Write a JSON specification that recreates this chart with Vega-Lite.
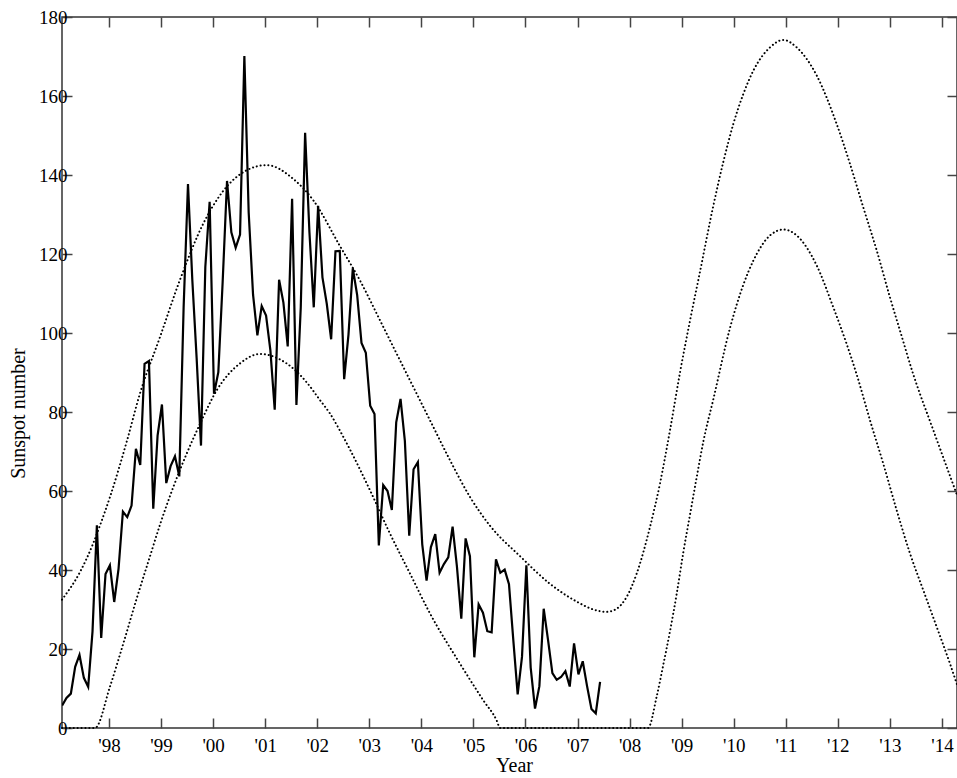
{
  "$schema": "https://vega.github.io/schema/vega-lite/v6.json",
  "width": 895,
  "height": 711,
  "autosize": "none",
  "padding": {"left": 62, "top": 17, "right": 0, "bottom": 50},
  "background": "white",
  "config": {
    "view": {"stroke": "#333", "strokeWidth": 1.5},
    "axis": {
      "labelFont": "Liberation Serif",
      "labelFontSize": 19,
      "labelColor": "black",
      "titleFont": "Liberation Serif",
      "titleFontSize": 20,
      "titleFontWeight": "normal",
      "titleColor": "black",
      "tickColor": "#444",
      "tickWidth": 1.5,
      "domain": false,
      "grid": false
    }
  },
  "datasets": {
    "obs": [
      {"t": 1997.100, "ssn": 5.7}, {"t": 1997.183, "ssn": 7.6}, {"t": 1997.267, "ssn": 8.7}, {"t": 1997.350, "ssn": 15.5},
      {"t": 1997.433, "ssn": 18.5}, {"t": 1997.517, "ssn": 12.7}, {"t": 1997.600, "ssn": 10.4}, {"t": 1997.683, "ssn": 24.4},
      {"t": 1997.767, "ssn": 51.3}, {"t": 1997.850, "ssn": 22.8}, {"t": 1997.933, "ssn": 39.0}, {"t": 1998.017, "ssn": 41.2},
      {"t": 1998.100, "ssn": 31.9}, {"t": 1998.183, "ssn": 40.3}, {"t": 1998.267, "ssn": 54.8}, {"t": 1998.350, "ssn": 53.4},
      {"t": 1998.433, "ssn": 56.3}, {"t": 1998.517, "ssn": 70.7}, {"t": 1998.600, "ssn": 66.6}, {"t": 1998.683, "ssn": 92.2},
      {"t": 1998.767, "ssn": 92.9}, {"t": 1998.850, "ssn": 55.5}, {"t": 1998.933, "ssn": 74.0}, {"t": 1999.017, "ssn": 81.9},
      {"t": 1999.100, "ssn": 62.0}, {"t": 1999.183, "ssn": 66.3}, {"t": 1999.267, "ssn": 68.8}, {"t": 1999.350, "ssn": 63.7},
      {"t": 1999.433, "ssn": 106.4}, {"t": 1999.517, "ssn": 137.7}, {"t": 1999.600, "ssn": 113.5}, {"t": 1999.683, "ssn": 93.7},
      {"t": 1999.767, "ssn": 71.5}, {"t": 1999.850, "ssn": 116.7}, {"t": 1999.933, "ssn": 133.2}, {"t": 2000.017, "ssn": 84.6},
      {"t": 2000.100, "ssn": 90.1}, {"t": 2000.183, "ssn": 112.9}, {"t": 2000.267, "ssn": 138.5}, {"t": 2000.350, "ssn": 125.5},
      {"t": 2000.433, "ssn": 121.6}, {"t": 2000.517, "ssn": 124.9}, {"t": 2000.600, "ssn": 170.1}, {"t": 2000.683, "ssn": 130.5},
      {"t": 2000.767, "ssn": 109.7}, {"t": 2000.850, "ssn": 99.4}, {"t": 2000.933, "ssn": 106.8}, {"t": 2001.017, "ssn": 104.4},
      {"t": 2001.100, "ssn": 95.6}, {"t": 2001.183, "ssn": 80.6}, {"t": 2001.267, "ssn": 113.5}, {"t": 2001.350, "ssn": 107.7},
      {"t": 2001.433, "ssn": 96.6}, {"t": 2001.517, "ssn": 134.0}, {"t": 2001.600, "ssn": 81.8}, {"t": 2001.683, "ssn": 106.4},
      {"t": 2001.767, "ssn": 150.7}, {"t": 2001.850, "ssn": 125.5}, {"t": 2001.933, "ssn": 106.5}, {"t": 2002.017, "ssn": 132.2},
      {"t": 2002.100, "ssn": 114.1}, {"t": 2002.183, "ssn": 107.4}, {"t": 2002.267, "ssn": 98.4}, {"t": 2002.350, "ssn": 120.7},
      {"t": 2002.433, "ssn": 120.8}, {"t": 2002.517, "ssn": 88.3}, {"t": 2002.600, "ssn": 99.6}, {"t": 2002.683, "ssn": 116.4},
      {"t": 2002.767, "ssn": 109.6}, {"t": 2002.850, "ssn": 97.5}, {"t": 2002.933, "ssn": 95.0}, {"t": 2003.017, "ssn": 81.6},
      {"t": 2003.100, "ssn": 79.5}, {"t": 2003.183, "ssn": 46.2}, {"t": 2003.267, "ssn": 61.5}, {"t": 2003.350, "ssn": 60.0},
      {"t": 2003.433, "ssn": 55.2}, {"t": 2003.517, "ssn": 77.4}, {"t": 2003.600, "ssn": 83.3}, {"t": 2003.683, "ssn": 72.7},
      {"t": 2003.767, "ssn": 48.7}, {"t": 2003.850, "ssn": 65.5}, {"t": 2003.933, "ssn": 67.3}, {"t": 2004.017, "ssn": 46.5},
      {"t": 2004.100, "ssn": 37.3}, {"t": 2004.183, "ssn": 45.8}, {"t": 2004.267, "ssn": 49.1}, {"t": 2004.350, "ssn": 39.3},
      {"t": 2004.433, "ssn": 41.5}, {"t": 2004.517, "ssn": 43.2}, {"t": 2004.600, "ssn": 51.0}, {"t": 2004.683, "ssn": 40.9},
      {"t": 2004.767, "ssn": 27.7}, {"t": 2004.850, "ssn": 48.0}, {"t": 2004.933, "ssn": 43.5}, {"t": 2005.017, "ssn": 17.9},
      {"t": 2005.100, "ssn": 31.3}, {"t": 2005.183, "ssn": 29.2}, {"t": 2005.267, "ssn": 24.5}, {"t": 2005.350, "ssn": 24.2},
      {"t": 2005.433, "ssn": 42.7}, {"t": 2005.517, "ssn": 39.3}, {"t": 2005.600, "ssn": 40.1}, {"t": 2005.683, "ssn": 36.4},
      {"t": 2005.767, "ssn": 22.1}, {"t": 2005.850, "ssn": 8.5}, {"t": 2005.933, "ssn": 18.0}, {"t": 2006.017, "ssn": 41.2},
      {"t": 2006.100, "ssn": 15.3}, {"t": 2006.183, "ssn": 4.9}, {"t": 2006.267, "ssn": 10.6}, {"t": 2006.350, "ssn": 30.2},
      {"t": 2006.433, "ssn": 22.3}, {"t": 2006.517, "ssn": 13.9}, {"t": 2006.600, "ssn": 12.2}, {"t": 2006.683, "ssn": 12.9},
      {"t": 2006.767, "ssn": 14.4}, {"t": 2006.850, "ssn": 10.5}, {"t": 2006.933, "ssn": 21.4}, {"t": 2007.017, "ssn": 13.6},
      {"t": 2007.100, "ssn": 16.9}, {"t": 2007.183, "ssn": 10.6}, {"t": 2007.267, "ssn": 4.8}, {"t": 2007.350, "ssn": 3.7},
      {"t": 2007.433, "ssn": 11.7}
    ],
    "curves": [
      {"bound": "upper", "t": 1997.097, "v": 32.5}, {"bound": "upper", "t": 1997.443, "v": 39.5},
      {"bound": "upper", "t": 1997.698, "v": 46.8}, {"bound": "upper", "t": 1997.827, "v": 51.3},
      {"bound": "upper", "t": 1998.019, "v": 58.5}, {"bound": "upper", "t": 1998.340, "v": 72.5},
      {"bound": "upper", "t": 1998.595, "v": 84.7}, {"bound": "upper", "t": 1998.980, "v": 99.0},
      {"bound": "upper", "t": 1999.364, "v": 113.5}, {"bound": "upper", "t": 1999.811, "v": 127.7},
      {"bound": "upper", "t": 2000.196, "v": 136.0}, {"bound": "upper", "t": 2000.645, "v": 141.2},
      {"bound": "upper", "t": 2001.029, "v": 142.5}, {"bound": "upper", "t": 2001.540, "v": 139.0},
      {"bound": "upper", "t": 2001.924, "v": 133.6}, {"bound": "upper", "t": 2002.437, "v": 122.0},
      {"bound": "upper", "t": 2002.821, "v": 113.3}, {"bound": "upper", "t": 2003.206, "v": 103.2},
      {"bound": "upper", "t": 2003.782, "v": 88.0}, {"bound": "upper", "t": 2004.166, "v": 77.9},
      {"bound": "upper", "t": 2004.550, "v": 67.8}, {"bound": "upper", "t": 2004.934, "v": 58.5},
      {"bound": "upper", "t": 2005.319, "v": 51.2}, {"bound": "upper", "t": 2005.895, "v": 43.5},
      {"bound": "upper", "t": 2006.471, "v": 36.5}, {"bound": "upper", "t": 2006.984, "v": 32.0},
      {"bound": "upper", "t": 2007.303, "v": 30.0}, {"bound": "upper", "t": 2007.560, "v": 29.4},
      {"bound": "upper", "t": 2007.752, "v": 30.2}, {"bound": "upper", "t": 2007.944, "v": 33.2},
      {"bound": "upper", "t": 2008.136, "v": 39.1}, {"bound": "upper", "t": 2008.392, "v": 50.9},
      {"bound": "upper", "t": 2008.584, "v": 61.9}, {"bound": "upper", "t": 2008.776, "v": 75.4},
      {"bound": "upper", "t": 2008.968, "v": 90.0}, {"bound": "upper", "t": 2009.160, "v": 103.1},
      {"bound": "upper", "t": 2009.352, "v": 115.5}, {"bound": "upper", "t": 2009.608, "v": 132.2},
      {"bound": "upper", "t": 2009.800, "v": 143.3}, {"bound": "upper", "t": 2009.992, "v": 152.9},
      {"bound": "upper", "t": 2010.184, "v": 160.5}, {"bound": "upper", "t": 2010.376, "v": 166.4},
      {"bound": "upper", "t": 2010.697, "v": 172.3}, {"bound": "upper", "t": 2010.952, "v": 174.2},
      {"bound": "upper", "t": 2011.210, "v": 172.3}, {"bound": "upper", "t": 2011.594, "v": 165.2},
      {"bound": "upper", "t": 2011.978, "v": 152.9}, {"bound": "upper", "t": 2012.234, "v": 142.8},
      {"bound": "upper", "t": 2012.489, "v": 131.8}, {"bound": "upper", "t": 2012.747, "v": 120.9},
      {"bound": "upper", "t": 2013.002, "v": 109.0}, {"bound": "upper", "t": 2013.194, "v": 100.6},
      {"bound": "upper", "t": 2013.450, "v": 89.5}, {"bound": "upper", "t": 2013.834, "v": 75.4},
      {"bound": "upper", "t": 2014.289, "v": 59.0},
      {"bound": "lower", "t": 1997.097, "v": 0}, {"bound": "lower", "t": 1997.731, "v": 0},
      {"bound": "lower", "t": 1998.019, "v": 10.5}, {"bound": "lower", "t": 1998.275, "v": 21.4},
      {"bound": "lower", "t": 1998.532, "v": 32.8}, {"bound": "lower", "t": 1998.788, "v": 43.5},
      {"bound": "lower", "t": 1998.980, "v": 51.5}, {"bound": "lower", "t": 1999.235, "v": 61.0},
      {"bound": "lower", "t": 1999.493, "v": 69.5}, {"bound": "lower", "t": 1999.748, "v": 77.0},
      {"bound": "lower", "t": 2000.069, "v": 85.5}, {"bound": "lower", "t": 2000.516, "v": 92.3},
      {"bound": "lower", "t": 2000.900, "v": 94.7}, {"bound": "lower", "t": 2001.285, "v": 93.3},
      {"bound": "lower", "t": 2001.540, "v": 91.0}, {"bound": "lower", "t": 2001.798, "v": 87.5},
      {"bound": "lower", "t": 2002.053, "v": 83.0}, {"bound": "lower", "t": 2002.245, "v": 79.6},
      {"bound": "lower", "t": 2002.501, "v": 73.7}, {"bound": "lower", "t": 2002.629, "v": 70.5},
      {"bound": "lower", "t": 2003.013, "v": 60.2}, {"bound": "lower", "t": 2003.398, "v": 49.2},
      {"bound": "lower", "t": 2003.782, "v": 39.1}, {"bound": "lower", "t": 2004.166, "v": 29.0},
      {"bound": "lower", "t": 2004.742, "v": 16.3}, {"bound": "lower", "t": 2005.190, "v": 7.0},
      {"bound": "lower", "t": 2005.447, "v": 1.9}, {"bound": "lower", "t": 2005.511, "v": 0},
      {"bound": "lower", "t": 2008.353, "v": 0}, {"bound": "lower", "t": 2008.521, "v": 8.0},
      {"bound": "lower", "t": 2008.647, "v": 16.0}, {"bound": "lower", "t": 2008.776, "v": 24.5},
      {"bound": "lower", "t": 2008.905, "v": 34.0}, {"bound": "lower", "t": 2009.032, "v": 44.5},
      {"bound": "lower", "t": 2009.160, "v": 54.0}, {"bound": "lower", "t": 2009.289, "v": 63.5},
      {"bound": "lower", "t": 2009.416, "v": 72.5}, {"bound": "lower", "t": 2009.608, "v": 83.2},
      {"bound": "lower", "t": 2009.929, "v": 101.3}, {"bound": "lower", "t": 2010.184, "v": 112.2},
      {"bound": "lower", "t": 2010.376, "v": 118.3}, {"bound": "lower", "t": 2010.697, "v": 124.7},
      {"bound": "lower", "t": 2010.952, "v": 126.2}, {"bound": "lower", "t": 2011.210, "v": 124.7},
      {"bound": "lower", "t": 2011.594, "v": 117.1}, {"bound": "lower", "t": 2011.913, "v": 106.5},
      {"bound": "lower", "t": 2012.170, "v": 97.2}, {"bound": "lower", "t": 2012.362, "v": 89.5},
      {"bound": "lower", "t": 2012.618, "v": 77.9}, {"bound": "lower", "t": 2012.873, "v": 66.9},
      {"bound": "lower", "t": 2013.131, "v": 55.1}, {"bound": "lower", "t": 2013.386, "v": 44.2},
      {"bound": "lower", "t": 2013.641, "v": 34.9}, {"bound": "lower", "t": 2013.899, "v": 25.6},
      {"bound": "lower", "t": 2014.154, "v": 16.3}, {"bound": "lower", "t": 2014.289, "v": 11.0}
    ]
  },
  "layer": [
    {
      "data": {"name": "curves"},
      "mark": {"type": "line", "color": "black", "strokeWidth": 2, "strokeDash": [0.1, 3.8], "strokeCap": "round", "interpolate": "monotone", "clip": false},
      "encoding": {
        "x": {"field": "t", "type": "quantitative",
              "scale": {"domain": [1997.097, 2014.289], "nice": false, "zero": false},
              "axis": {"orient": "top", "labels": false, "title": null, "tickSize": -10,
                       "values": [1998,1999,2000,2001,2002,2003,2004,2005,2006,2007,2008,2009,2010,2011,2012,2013,2014]}},
        "y": {"field": "v", "type": "quantitative",
              "scale": {"domain": [0, 180], "nice": false, "zero": true},
              "axis": {"orient": "right", "labels": false, "title": null, "tickSize": -10,
                       "values": [0,20,40,60,80,100,120,140,160,180]}},
        "detail": {"field": "bound"}
      }
    },
    {
      "data": {"name": "obs"},
      "mark": {"type": "line", "color": "black", "strokeWidth": 2.2, "strokeJoin": "miter", "clip": true},
      "encoding": {
        "x": {"field": "t", "type": "quantitative",
              "scale": {"domain": [1997.097, 2014.289], "nice": false, "zero": false},
              "axis": {"orient": "bottom", "title": "Year", "tickSize": -10, "labelPadding": 18, "titlePadding": 0, "titleX": 452,
                       "values": [1998,1999,2000,2001,2002,2003,2004,2005,2006,2007,2008,2009,2010,2011,2012,2013,2014],
                       "labelExpr": "\"'\" + format(datum.value % 100, '02d')"}},
        "y": {"field": "ssn", "type": "quantitative",
              "scale": {"domain": [0, 180], "nice": false, "zero": true},
              "axis": {"orient": "left", "title": "Sunspot number", "tickSize": -10, "labelPadding": 5, "titlePadding": 10, "titleY": 396,
                       "values": [0,20,40,60,80,100,120,140,160,180]}}
      }
    }
  ],
  "resolve": {"axis": {"x": "independent", "y": "independent"}}
}
